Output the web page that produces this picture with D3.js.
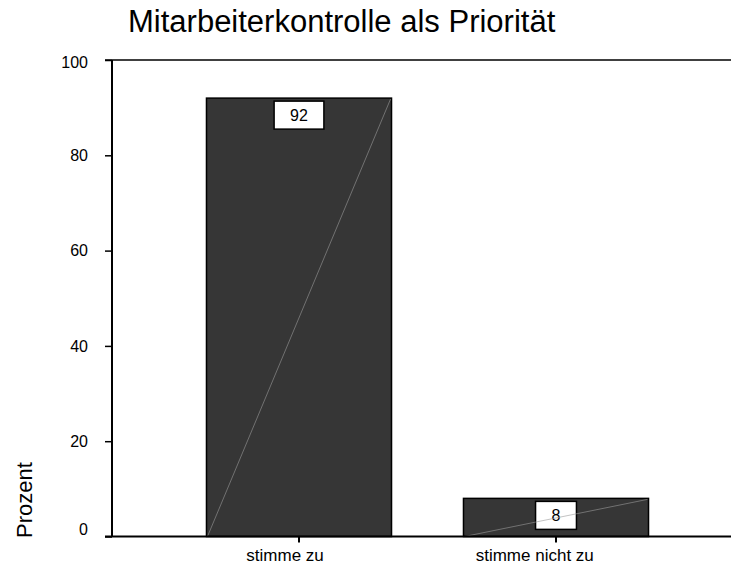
<!DOCTYPE html>
<html>
<head>
<meta charset="utf-8">
<script src="https://cdn.jsdelivr.net/npm/d3@7/dist/d3.min.js"></script>
<style>
  html, body { margin: 0; padding: 0; background: #fff; }
  svg { display: block; font-family: "Liberation Sans", Arial, sans-serif; }
</style>
</head>
<body>
<svg id="chart" width="731" height="565"></svg>
<script>
// Survey answers and their share in percent
const categories = ["stimme zu", "stimme nicht zu"];
const values = [92, 8];
const yTicks = [0, 20, 40, 60, 80, 100];
const title = "Mitarbeiterkontrolle als Priorität";
const yLabel = "Prozent";

const svg = d3.select("#chart");
const W = 731;
const FONT = "Liberation Sans, Arial, sans-serif";

const x = d3.scaleBand()
  .domain(categories)
  .range([170.5, 684.5])
  .paddingInner(0.28)
  .paddingOuter(0.14);

const y = d3.scaleLinear().domain([0, 100]).range([536.5, 60]);
const axisX = 112;

// Title
svg.append("text")
  .attr("x", 128).attr("y", 32)
  .attr("font-size", 31)
  .attr("fill", "#000")
  .text(title);

// Top frame line
svg.append("line")
  .attr("x1", 105).attr("x2", W)
  .attr("y1", y(100)).attr("y2", y(100))
  .attr("stroke", "#000").attr("stroke-width", 1.5);

// Y axis
const yAxis = d3.axisLeft(y).tickValues(yTicks).tickSize(7).tickPadding(17);
const gy = svg.append("g").attr("transform", `translate(${axisX},0)`).call(yAxis);
gy.select(".domain").attr("stroke-width", 2).attr("d", `M0,${y(100)}V${y(0)}`);
gy.selectAll(".tick line").attr("stroke-width", 1.5);
gy.selectAll(".tick text")
  .attr("font-size", 16).attr("font-family", FONT).attr("fill", "#000")
  // end labels nudged inward, clear of the frame lines
  .attr("y", d => d === 0 ? -7 : d === 100 ? 2 : 0);

// Y label
svg.append("text")
  .attr("transform", `translate(32,538) rotate(-90)`)
  .attr("font-size", 22)
  .attr("fill", "#000")
  .text(yLabel);

// Bars
const data = categories.map((c, i) => ({ cat: c, val: values[i] }));
svg.append("g").selectAll("rect")
  .data(data)
  .join("rect")
  .attr("x", d => x(d.cat))
  .attr("y", d => y(d.val))
  .attr("width", x.bandwidth())
  .attr("height", d => y(0) - y(d.val))
  .attr("fill", "#363636")
  .attr("stroke", "#000")
  .attr("stroke-width", 1.5);

// Value boxes
const labels = svg.append("g");
data.forEach(d => {
  const cx = x(d.cat) + x.bandwidth() / 2;
  const t = labels.append("text")
    .attr("x", cx)
    .attr("y", y(d.val) + 23)
    .attr("text-anchor", "middle")
    .attr("font-size", 16)
    .attr("fill", "#000")
    .text(d.val);
  const tw = t.node().getComputedTextLength();
  labels.insert("rect", "text")
    .attr("x", cx - (tw + 32) / 2)
    .attr("y", y(d.val) + 3)
    .attr("width", tw + 32)
    .attr("height", 28)
    .attr("fill", "#fff")
    .attr("stroke", "#000")
    .attr("stroke-width", 1.5);
});

// Diagonal hairline across each bar
svg.append("g").selectAll("line")
  .data(data)
  .join("line")
  .attr("x1", d => x(d.cat) + 1)
  .attr("y1", y(0))
  .attr("x2", d => x(d.cat) + x.bandwidth() - 1)
  .attr("y2", d => y(d.val) + 1)
  .attr("stroke", "#9a9a9a")
  .attr("stroke-width", 0.6);

// X axis
const xAxis = d3.axisBottom(x).tickSize(6).tickPadding(0);
const gx = svg.append("g").attr("transform", `translate(0,${y(0)})`).call(xAxis);
gx.select(".domain").attr("stroke-width", 2).attr("d", `M105,0H${W}`);
gx.selectAll(".tick line").attr("stroke-width", 2);
gx.selectAll(".tick text")
  .attr("font-size", 17).attr("font-family", FONT).attr("fill", "#000")
  .attr("dy", null)
  .attr("y", 24)
  .attr("text-anchor", "start")
  .attr("x", function () { return -0.68 * this.getComputedTextLength(); });
</script>
</body>
</html>
